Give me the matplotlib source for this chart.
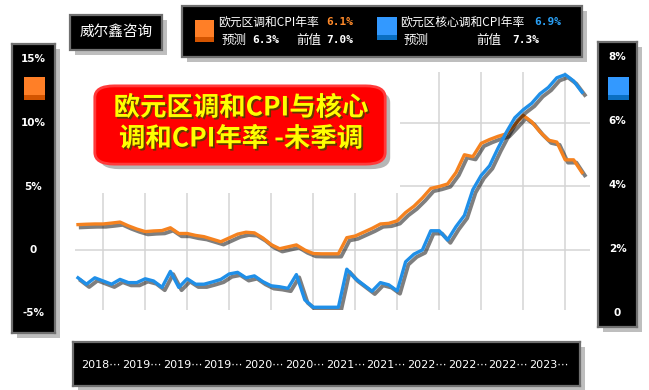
import matplotlib
matplotlib.use("Agg")
import matplotlib.pyplot as plt
import matplotlib.patheffects as pe
from matplotlib.patches import Rectangle, FancyBboxPatch
import numpy as np

# ---------------- data (May 2018 .. May 2023, monthly) ----------------
hicp = [2.0, 2.03, 2.05, 2.05, 2.12, 2.2, 1.9, 1.65, 1.45, 1.5, 1.53, 1.75, 1.3, 1.3, 1.15,
        1.05, 0.85, 0.65, 0.95, 1.25, 1.4, 1.35, 0.95, 0.42, 0.1, 0.25, 0.4, 0.0, -0.28, -0.3,
        -0.3, -0.3, 0.97, 1.1, 1.4, 1.7, 2.05, 2.1, 2.3, 2.95, 3.45, 4.1, 4.85, 5.0, 5.2,
        6.1, 7.5, 7.35, 8.4, 8.7, 8.95, 9.15, 9.85, 10.6, 10.1, 9.3, 8.65, 8.5, 7.1, 7.1, 6.1]
core = [1.1, 0.9, 1.1, 1.0, 0.9, 1.05, 0.95, 0.95, 1.07, 1.0, 0.8, 1.3, 0.8, 1.07, 0.9,
        0.9, 0.97, 1.05, 1.22, 1.27, 1.1, 1.16, 0.98, 0.85, 0.82, 0.77, 1.2, 0.41, 0.18, 0.18,
        0.18, 0.18, 1.37, 1.08, 0.88, 0.68, 0.95, 0.88, 0.69, 1.6, 1.84, 1.97, 2.57, 2.57, 2.28,
        2.7, 3.05, 3.85, 4.3, 4.6, 5.15, 5.65, 6.1, 6.35, 6.55, 6.85, 7.05, 7.35, 7.45, 7.25, 6.9]
assert len(hicp) == len(core)

x_labels = ["2018", "2019", "2019", "2019", "2020", "2020",
            "2021", "2021", "2022", "2022", "2022", "2023"]
left_ticks = [15, 10, 5, 0, -5]
left_tick_labels = ["15%", "10%", "5%", "0", "-5%"]
right_ticks = [8, 6, 4, 2, 0]
right_tick_labels = ["8%", "6%", "4%", "2%", "0"]

title_lines = ["欧元区调和CPI与核心", "调和CPI年率 -未季调"]
brand = "威尔鑫咨询"
s1_name, s1_now, s1_fc, s1_prev = "欧元区调和CPI年率", "6.1%", "6.3%", "7.0%"
s2_name, s2_now, s2_fc, s2_prev = "欧元区核心调和CPI年率", "6.9%", "", "7.3%"

ORANGE = "#f5821f"
BLUE = "#1f8fe8"
CJK = ["Noto Sans CJK SC", "DejaVu Sans"]

plt.rcParams["font.family"] = CJK

W, H = 649, 390
fig = plt.figure(figsize=(W / 100, H / 100), dpi=100)
fig.patch.set_facecolor("white")


def fx(px):
    return px / W


def fy(py):
    return 1 - py / H


def shadow_box(x0, y0, x1, y1, off=5, z=-1):
    fig.patches.append(Rectangle((fx(x0 + off), fy(y1 + off)), (x1 - x0) / W, (y1 - y0) / H,
                                 transform=fig.transFigure, facecolor="#8a8a8a",
                                 edgecolor="none", alpha=0.55, zorder=z))


def black_box(x0, y0, x1, y1, z=1):
    shadow_box(x0, y0, x1, y1, z=z - 0.1)
    fig.patches.append(Rectangle((fx(x0), fy(y1)), (x1 - x0) / W, (y1 - y0) / H,
                                 transform=fig.transFigure, facecolor="black",
                                 edgecolor="#707070", linewidth=1.6, zorder=z))


# ---------------- main axes ----------------
n = len(hicp)
xs = np.arange(n)
px_per = 8.4
ax = fig.add_axes([fx(75), fy(310), (590 - 75) / W, (310 - 72) / H])
ax.set_xlim((75 - 78) / px_per, (590 - 78) / px_per)
ax.set_ylim((250 - 310) / 12.7, (250 - 72) / 12.7)
ax.set_facecolor("white")
for s in ax.spines.values():
    s.set_visible(False)
ax.set_xticks(np.arange(3, n, 5))
ax.set_yticks([0, 5, 10])
ax.tick_params(length=0, labelbottom=False, labelleft=False)
ax.grid(True, color="#d4d4d4", linewidth=1.1)
ax.set_axisbelow(True)
# white area hiding the grid in the upper-left (behind the title)
ax.add_patch(Rectangle(((75 - 78) / px_per - 1, (250 - 193) / 12.7), (400 - 75) / px_per + 1, 20,
                       facecolor="white", edgecolor="none", zorder=1.8))

shadow = [pe.SimpleLineShadow(offset=(2.0, -2.0), shadow_color="black", alpha=0.5, linewidth=2.8),
          pe.Normal()]
ax.plot(xs, hicp, color=ORANGE, linewidth=2.4, zorder=3, path_effects=shadow,
        solid_joinstyle="round")

ax2 = ax.twinx()
ax2.set_ylim((313 - 310) / 32, (313 - 72) / 32)
for s in ax2.spines.values():
    s.set_visible(False)
ax2.set_yticks([])
ax2.plot(xs, core, color=BLUE, linewidth=2.4, zorder=3, path_effects=shadow,
         solid_joinstyle="round")

# ---------------- left panel ----------------
shadow_box(12, 44, 55, 333)
axl = fig.add_axes([fx(12), fy(333), (55 - 12) / W, (333 - 44) / H])
axl.set_facecolor("black")
axl.set_xlim(0, 1)
axl.set_ylim((250 - 333) / 12.7, (250 - 44) / 12.7)
axl.set_xticks([]); axl.set_yticks([])
for s in axl.spines.values():
    s.set_color("#707070"); s.set_linewidth(1.6)
for v, lab in zip(left_ticks, left_tick_labels):
    axl.text(0.5, v, lab, color="white", ha="center", va="center", fontsize=7.5,
             fontweight="bold", family="DejaVu Sans")
fig.patches.append(Rectangle((fx(24), fy(100)), 21 / W, 23 / H, transform=fig.transFigure,
                             facecolor="#ff7f27", edgecolor="none", zorder=3))
fig.patches.append(Rectangle((fx(24), fy(100)), 21 / W, 5 / H, transform=fig.transFigure,
                             facecolor="#d35400", edgecolor="none", zorder=3))

# ---------------- right panel ----------------
shadow_box(598, 42, 637, 327)
axr = fig.add_axes([fx(598), fy(327), (637 - 598) / W, (327 - 42) / H])
axr.set_facecolor("black")
axr.set_xlim(0, 1)
axr.set_ylim((313 - 327) / 32, (313 - 42) / 32)
axr.set_xticks([]); axr.set_yticks([])
for s in axr.spines.values():
    s.set_color("#707070"); s.set_linewidth(1.6)
for v, lab in zip(right_ticks, right_tick_labels):
    axr.text(0.5, v, lab, color="white", ha="center", va="center", fontsize=7.5,
             fontweight="bold", family="DejaVu Sans")
fig.patches.append(Rectangle((fx(608), fy(100)), 21 / W, 23 / H, transform=fig.transFigure,
                             facecolor="#3399ff", edgecolor="none", zorder=3))
fig.patches.append(Rectangle((fx(608), fy(100)), 21 / W, 5 / H, transform=fig.transFigure,
                             facecolor="#0a6fc2", edgecolor="none", zorder=3))

# ---------------- bottom label box ----------------
shadow_box(73, 342, 580, 386)
axb = fig.add_axes([fx(73), fy(386), (580 - 73) / W, (386 - 342) / H])
axb.set_facecolor("black")
axb.set_xlim((73 - 101) / 40.73, (580 - 101) / 40.73)
axb.set_ylim(0, 1)
axb.set_xticks([]); axb.set_yticks([])
for s in axb.spines.values():
    s.set_color("#707070"); s.set_linewidth(1.6)
for i, lab in enumerate(x_labels):
    axb.text(i, 0.47, lab + "⋯", color="white", ha="center", va="center", fontsize=8,
             family=["DejaVu Sans", "Noto Sans CJK SC"])

# ---------------- brand box ----------------
black_box(70, 15, 162, 50)
fig.text(fx(116), fy(32), brand, color="white", ha="center", va="center", fontsize=10.5,
         zorder=5)

# ---------------- legend box ----------------
black_box(182, 6, 582, 57)
fig.patches.append(Rectangle((fx(195), fy(42)), 19 / W, 22 / H, transform=fig.transFigure,
                             facecolor="#ff7f27", edgecolor="none", zorder=3))
fig.patches.append(Rectangle((fx(195), fy(42)), 19 / W, 5 / H, transform=fig.transFigure,
                             facecolor="#d35400", edgecolor="none", zorder=3))
fig.patches.append(Rectangle((fx(377), fy(40)), 20 / W, 23 / H, transform=fig.transFigure,
                             facecolor="#3399ff", edgecolor="none", zorder=3))
fig.patches.append(Rectangle((fx(377), fy(40)), 20 / W, 5 / H, transform=fig.transFigure,
                             facecolor="#0a6fc2", edgecolor="none", zorder=3))

r1, r2 = fy(22), fy(40)
kw = dict(color="white", va="center", ha="left", zorder=5)
fig.text(fx(218), r1, s1_name, fontsize=8.5, **kw)
fig.text(fx(326), r1, s1_now, fontsize=8, fontweight="bold", family="DejaVu Sans Mono",
         color="#ff8a2a", va="center", ha="left", zorder=5)
fig.text(fx(222), r2, "预测", fontsize=9, **kw)
fig.text(fx(252), r2, s1_fc, fontsize=8, fontweight="bold", family="DejaVu Sans Mono", **kw)
fig.text(fx(296), r2, "前值", fontsize=9, **kw)
fig.text(fx(326), r2, s1_prev, fontsize=8, fontweight="bold", family="DejaVu Sans Mono", **kw)

fig.text(fx(400), r1, s2_name, fontsize=8.5, **kw)
fig.text(fx(534), r1, s2_now, fontsize=8, fontweight="bold", family="DejaVu Sans Mono",
         color="#2aa0f5", va="center", ha="left", zorder=5)
fig.text(fx(404), r2, "预测" + s2_fc, fontsize=9, **kw)
fig.text(fx(476), r2, "前值", fontsize=9, **kw)
fig.text(fx(512), r2, s2_prev, fontsize=8, fontweight="bold", family="DejaVu Sans Mono", **kw)

# ---------------- title blob ----------------
tb_x0, tb_y0, tb_x1, tb_y1 = 100, 89, 380, 161
fig.patches.append(FancyBboxPatch((fx(tb_x0 + 5), fy(tb_y1 + 5)), (tb_x1 - tb_x0) / W,
                                  (tb_y1 - tb_y0) / H, boxstyle="round,pad=0.008,rounding_size=0.03",
                                  transform=fig.transFigure, facecolor="#7a7a7a", alpha=0.55,
                                  edgecolor="none", zorder=6))
fig.patches.append(FancyBboxPatch((fx(tb_x0), fy(tb_y1)), (tb_x1 - tb_x0) / W,
                                  (tb_y1 - tb_y0) / H, boxstyle="round,pad=0.008,rounding_size=0.03",
                                  transform=fig.transFigure, facecolor="#ff0000",
                                  edgecolor="#ff3a3a", linewidth=2, zorder=6.1))
title_fx = [pe.withSimplePatchShadow(offset=(1.3, -1.3), shadow_rgbFace="#5a3c00", alpha=0.95)]
fig.text(fx(241), fy(108), title_lines[0], color="#ffff00", ha="center", va="center",
         fontsize=19, fontweight="bold", zorder=7, path_effects=title_fx)
fig.text(fx(241), fy(139), title_lines[1], color="#ffff00", ha="center", va="center",
         fontsize=19, fontweight="bold", zorder=7, path_effects=title_fx)

fig.savefig("out.png", dpi=100, facecolor="white")
